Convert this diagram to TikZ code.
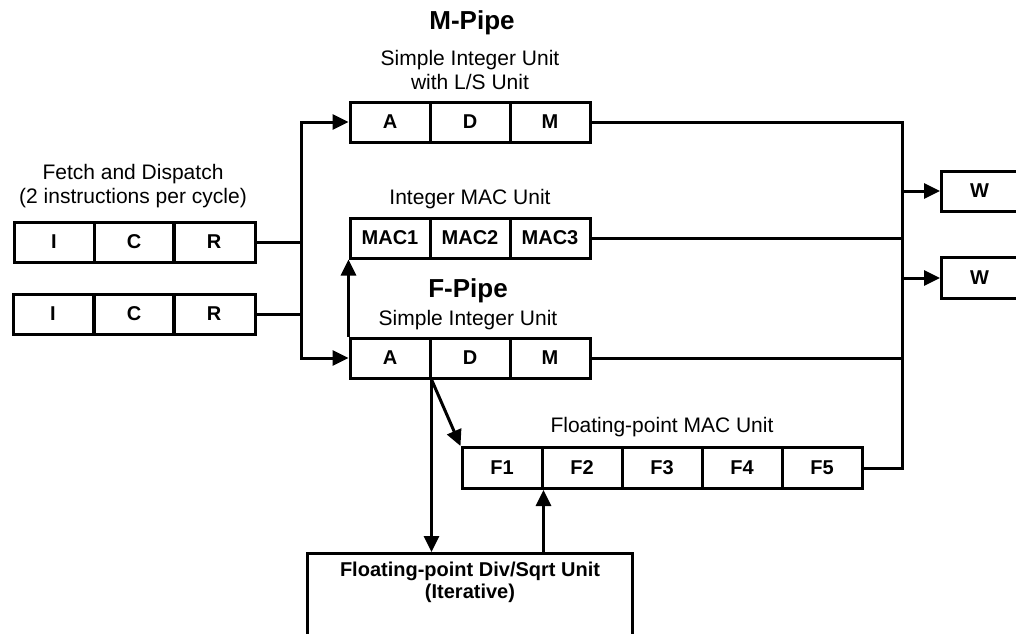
\documentclass[tikz,border=0pt]{standalone}
\usepackage{fontspec}
\setmainfont{Liberation Sans}
\usetikzlibrary{arrows.meta}
\begin{document}
\begin{tikzpicture}[x=1pt,y=-1pt,
  cell/.style={draw,line width=3pt,minimum width=80pt,minimum height=40pt,inner sep=0pt,
    font=\fontsize{20}{22}\selectfont\bfseries},
  lbl/.style={font=\fontsize{21}{24}\selectfont,align=center,inner sep=0pt},
  ttl/.style={font=\fontsize{26}{28}\selectfont\bfseries,inner sep=0pt},
  wire/.style={line width=3pt},
  arr/.style={wire,-{Triangle[length=16pt,width=15pt]}},
  darr/.style={wire,{Triangle[length=16pt,width=15pt]}-{Triangle[length=16pt,width=15pt]}}]
\clip (0,0) rectangle (1016,633);
\fill[white] (0,0) rectangle (1016,633);
% labels
\node[lbl] (tfetch) at (133,186) {Fetch and Dispatch\\(2 instructions per cycle)};
\node[ttl] (tm) at (472,23) {M-Pipe};
\node[lbl] (tsiu1) at (470,70) {Simple Integer Unit\\with L/S Unit};
\node[lbl] (tmac) at (470,199) {Integer MAC Unit};
\node[ttl] (tf) at (468,291) {F-Pipe};
\node[lbl] (tsiu2) at (468,320) {Simple Integer Unit};
\node[lbl] (tfmac) at (662,427) {Floating-point MAC Unit};
% fetch rows
\node[cell] (i1) at (54,242) {I};
\node[cell] (c1) at (134,242) {C};
\node[cell,minimum width=82pt] (r1) at (214,242) {R};
\node[cell] (i2) at (53,314) {I};
\node[cell] (c2) at (134,314) {C};
\node[cell,minimum width=82pt] (r2) at (214,314) {R};
% M-pipe
\node[cell] (ma) at (390,122) {A};
\node[cell] (md) at (470,122) {D};
\node[cell] (mm) at (550,122) {M};
% MAC
\node[cell] (mac1) at (390,238) {MAC1};
\node[cell] (mac2) at (470,238) {MAC2};
\node[cell] (mac3) at (550,238) {MAC3};
% F-pipe
\node[cell] (fa) at (390,358) {A};
\node[cell] (fd) at (470,358) {D};
\node[cell] (fm) at (550,358) {M};
% FP MAC
\node[cell,minimum height=41pt] (f1) at (502,468) {F1};
\node[cell,minimum height=41pt] (f2) at (582,468) {F2};
\node[cell,minimum height=41pt] (f3) at (662,468) {F3};
\node[cell,minimum height=41pt] (f4) at (742,468) {F4};
\node[cell,minimum height=41pt] (f5) at (822,468) {F5};
% write-back
\node[cell,minimum width=110pt,anchor=west] (w1) at (940,191) {\hspace*{-34pt}W};
\node[cell,minimum width=110pt,minimum height=41pt,anchor=west] (w2) at (940,278) {\hspace*{-34pt}W};
% div/sqrt
\node[draw,line width=3pt,minimum width=325pt,minimum height=150pt,anchor=north,inner sep=0pt] (div) at (469.5,552) {};
\node[lbl,font=\fontsize{20}{22}\selectfont\bfseries] (tdiv) at (470,582) {Floating-point Div/Sqrt Unit\\(Iterative)};
% junction coordinates
\coordinate (jt) at (301,122);
\coordinate (jb) at (301,358);
\coordinate (kt) at (902,122);
\coordinate (kb) at (902,468);
% connectors
\draw[wire] (r1.east) -- (r1.east -| jt);
\draw[wire] (r2.east) -- (r2.east -| jt);
\draw[darr] (ma.west) -- (jt) -- (jb) -- (fa.west);
\draw[wire] (mm.east) -- (kt) -- (kb) -- (f5.east);
\draw[wire] (mac3.east) -- (mac3.east -| kt);
\draw[wire] (fm.east) -- (fm.east -| kt);
\draw[arr] (w1.west -| kt) -- (w1.west);
\draw[arr] (w2.west -| kt) -- (w2.west);
\draw[arr] (fa.north west) -- (mac1.south west);
\draw[arr] (fa.south east) -- (fa.south east |- div.north);
\draw[arr] (fa.south east) -- (f1.north west);
\draw[arr] (f1.south east |- div.north) -- (f1.south east);
\end{tikzpicture}
\end{document}
